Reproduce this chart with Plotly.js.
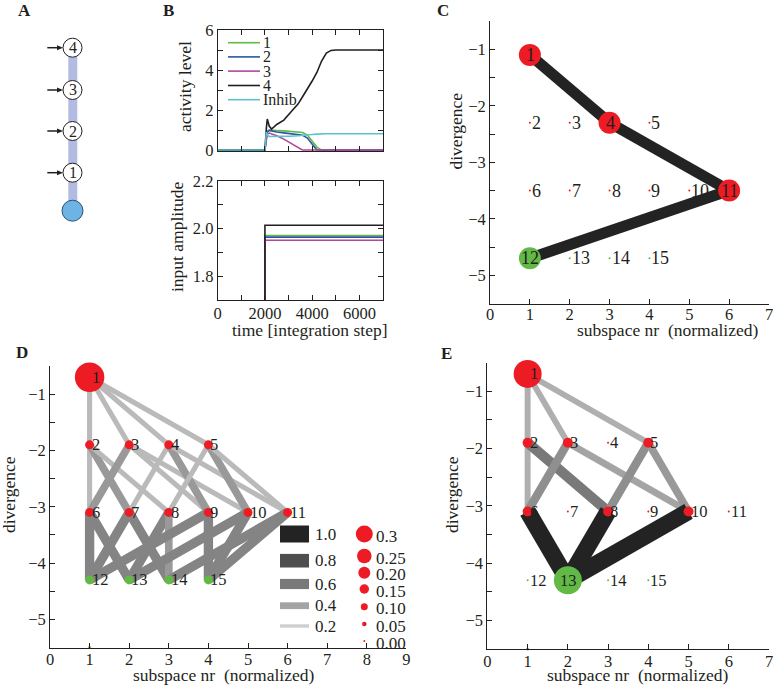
<!DOCTYPE html>
<html><head><meta charset="utf-8">
<script src="https://cdn.plot.ly/plotly-3.0.1.min.js"></script>
<style>html,body{margin:0;padding:0;background:#fff}#chart{width:774px;height:686px}</style>
</head><body><div id="chart"></div>
<script>
// ---------------- Panel B data ----------------
const seriesNames = ['1', '2', '3', '4', 'Inhib'];
const timeSteps = [0, 2000, 2060, 2100, 2180, 2280, 2500, 2800, 3100, 3400, 3600, 3800, 4000, 4200, 4400, 4600, 4800, 5000, 7000];
const activity1 = [0, 0, 0.70, 0.95, 1.00, 1.00, 0.98, 0.96, 0.94, 0.92, 0.88, 0.75, 0.45, 0.15, 0, 0, 0, 0, 0];
const activity2 = [0, 0, 0.60, 0.90, 0.98, 0.95, 0.90, 0.86, 0.82, 0.78, 0.74, 0.60, 0.30, 0, 0, 0, 0, 0, 0];
const activity3 = [0, 0, 0.50, 0.80, 0.85, 0.82, 0.72, 0.55, 0.35, 0.12, 0, 0, 0, 0, 0, 0, 0, 0, 0];
const activity4 = [0, 0, 1.10, 1.55, 1.20, 1.05, 1.28, 1.50, 1.90, 2.30, 2.68, 3.05, 3.45, 3.88, 4.45, 4.85, 4.98, 5.00, 5.00];
const activityInhib = [0, 0, 0.90, 0.75, 0.68, 0.68, 0.70, 0.70, 0.70, 0.72, 0.73, 0.75, 0.78, 0.80, 0.82, 0.82, 0.82, 0.82, 0.82];
const inputTimes = [0, 2000, 2000, 7000];
const input1 = [0, 0, 1.971, 1.971];
const input2 = [0, 0, 1.964, 1.964];
const input3 = [0, 0, 1.951, 1.951];
const input4 = [0, 0, 2.014, 2.014];

// ---------------- Network data (panels C, D, E) ----------------
const nodeLabels = ['1','2','3','4','5','6','7','8','9','10','11','12','13','14','15'];
const nodeSubspace = [1, 1, 2, 3, 4, 1, 2, 3, 4, 5, 6, 1, 2, 3, 4];
const nodeIsOutput = [0,0,0,0,0,0,0,0,0,0,0,1,1,1,1];
const divergenceC = [-1.1, -2.3, -2.3, -2.3, -2.3, -3.5, -3.5, -3.5, -3.5, -3.5, -3.5, -4.7, -4.7, -4.7, -4.7];
const divergenceDE = [-0.7, -1.9, -1.9, -1.9, -1.9, -3.1, -3.1, -3.1, -3.1, -3.1, -3.1, -4.3, -4.3, -4.3, -4.3];
const emptyNodeSubspace = [1];
const emptyNodeDivergence = [-5.5];

const nodeWeightC = [0.40, 0, 0, 0.40, 0, 0, 0, 0, 0, 0, 0.40, 0.40, 0, 0, 0];
const nodeWeightD = [0.55, 0.14, 0.14, 0.14, 0.14, 0.14, 0.14, 0.14, 0.14, 0.14, 0.14, 0.14, 0.14, 0.14, 0.14];
const nodeWeightE = [0.52, 0.16, 0.16, 0, 0.16, 0.16, 0, 0.16, 0, 0.16, 0, 0, 0.52, 0, 0];

const edgeFromC = [1, 4, 11];
const edgeToC   = [4, 11, 12];
const edgeWC    = [1, 1, 1];

const edgeFromD = [1, 1, 1, 1, 2, 2, 2, 3, 3, 3, 4, 4, 4, 5, 5, 5, 6, 6, 7, 7, 8, 8, 9, 9, 10, 10, 11, 11];
const edgeToD   = [2, 3, 4, 5, 6, 7, 8, 6, 9, 10, 7, 9, 11, 8, 10, 11, 12, 13, 12, 14, 13, 14, 12, 15, 13, 15, 14, 15];
const edgeWD    = [0.30, 0.30, 0.30, 0.30, 0.30, 0.45, 0.30, 0.45, 0.30, 0.30, 0.30, 0.45, 0.30, 0.30, 0.45, 0.30,
                   0.55, 0.55, 0.55, 0.55, 0.55, 0.45, 0.55, 0.55, 0.55, 0.55, 0.55, 0.55];

const edgeFromE = [1, 1, 1, 2, 2, 3, 3, 5, 5, 6, 8, 10];
const edgeToE   = [2, 3, 5, 6, 8, 6, 10, 8, 10, 13, 13, 13];
const edgeWE    = [0.35, 0.35, 0.35, 0.35, 0.60, 0.50, 0.40, 0.50, 0.45, 1.0, 1.0, 1.0];

const edgeLegendValues = [1.0, 0.8, 0.6, 0.4, 0.2];
const nodeLegendValues = [0.3, 0.25, 0.20, 0.15, 0.10, 0.05, 0.00];
const nodeLegendLabels = ['0.3', '0.25', '0.20', '0.15', '0.10', '0.05', '0.00'];

// ---------------- helpers / style ----------------
const W = 774, H = 686;
const fx = p => p / W, fy = p => 1 - p / H;
const FONT = '"Liberation Serif", "Times New Roman", serif';
const ink = '#231f20';
const RED = '#ed1c24', GREEN = '#62b946';
const seriesColors = ['#62b946', '#2b56a5', '#b4469a', '#231f20', '#5cc3cf'];
const gray = w => { const g = Math.round(250 - 215 * w); return `rgb(${g},${g},${g})`; };
const nodeDiam = v => 2 + 50 * v;
const F = s => ({family: FONT, size: s, color: ink});

const traces = [], shapes = [], annotations = [];

// ---------------- Panel B traces ----------------
[activity1, activity2, activity3, activity4, activityInhib].forEach((s, i) => traces.push({
  x: timeSteps, y: s, type: 'scatter', mode: 'lines', name: seriesNames[i],
  line: {color: seriesColors[i], width: 1.6}, xaxis: 'x', yaxis: 'y', hoverinfo: 'skip'
}));
[input1, input2, input3, input4].forEach((s, i) => traces.push({
  x: inputTimes, y: s, type: 'scatter', mode: 'lines', name: seriesNames[i],
  line: {color: seriesColors[i], width: 1.6}, xaxis: 'x2', yaxis: 'y2', hoverinfo: 'skip'
}));
// manual legend for B
const legRows = [42.7, 56.9, 71.1, 85.5, 99.7];
seriesNames.forEach((n, i) => {
  shapes.push({type: 'line', xref: 'paper', yref: 'paper', x0: fx(228), x1: fx(260), y0: fy(legRows[i]), y1: fy(legRows[i]),
    line: {color: seriesColors[i], width: 1.6}});
  annotations.push({xref: 'paper', yref: 'paper', x: fx(261.5), y: fy(legRows[i]), xanchor: 'left', yanchor: 'middle',
    text: n, showarrow: false, borderpad: 0, font: F(16)});
});

// ---------------- network drawing ----------------
function drawNetwork(ax, ay, nodeY, weights, eFrom, eTo, eW, widthScale, centered, withEmpty, labelSize) {
  eFrom.forEach((f, k) => {
    const t = eTo[k];
    traces.push({x: [nodeSubspace[f - 1], nodeSubspace[t - 1]], y: [nodeY[f - 1], nodeY[t - 1]],
      type: 'scatter', mode: 'lines', line: {color: gray(eW[k]), width: widthScale * eW[k]},
      xaxis: ax, yaxis: ay, hoverinfo: 'skip'});
  });
  if (withEmpty) traces.push({x: emptyNodeSubspace, y: emptyNodeDivergence, type: 'scatter', mode: 'markers',
    marker: {size: nodeDiam(0) + 1, color: GREEN, opacity: 1}, cliponaxis: false, xaxis: ax, yaxis: ay, hoverinfo: 'skip'});
  traces.push({x: nodeSubspace, y: nodeY, type: 'scatter', mode: 'markers',
    marker: {size: weights.map(nodeDiam), color: nodeIsOutput.map(o => o ? GREEN : RED), opacity: 1, line: {width: 0}},
    cliponaxis: false, xaxis: ax, yaxis: ay, hoverinfo: 'skip'});
  nodeLabels.forEach((lab, i) => {
    const c = centered.includes(i + 1);
    annotations.push({xref: ax, yref: ay, x: nodeSubspace[i], y: nodeY[i], text: lab, showarrow: false,
      xanchor: c ? 'center' : 'left', yanchor: 'middle', xshift: c ? 0.5 : 0, yshift: 0,
      font: F(labelSize)});
  });
}
drawNetwork('x3', 'y3', divergenceC, nodeWeightC, edgeFromC, edgeToC, edgeWC, 11, [1, 4, 11, 12], false, 18);
drawNetwork('x4', 'y4', divergenceDE, nodeWeightD, edgeFromD, edgeToD, edgeWD, 17, [], true, 16.5);
drawNetwork('x5', 'y5', divergenceDE, nodeWeightE, edgeFromE, edgeToE, edgeWE, 17, [13], true, 16.5);

// ---------------- D legends ----------------
const edgeLegY = [534, 560.7, 584, 605.7, 626];
edgeLegendValues.forEach((v, i) => {
  shapes.push({type: 'line', xref: 'paper', yref: 'paper', x0: fx(280), x1: fx(309), y0: fy(edgeLegY[i]), y1: fy(edgeLegY[i]),
    line: {color: gray(v), width: 17 * v}});
  annotations.push({xref: 'paper', yref: 'paper', x: fx(313), y: fy(edgeLegY[i]), xanchor: 'left', yanchor: 'middle',
    text: v.toFixed(1), showarrow: false, font: F(17)});
});
const nodeLegY = [534, 556, 572.7, 589, 606.7, 624, 641];
nodeLegendValues.forEach((v, i) => {
  const r = nodeDiam(v) / 2, cx = 364.3, cy = nodeLegY[i];
  shapes.push({type: 'circle', xref: 'paper', yref: 'paper', x0: fx(cx - r), x1: fx(cx + r), y0: fy(cy + r), y1: fy(cy - r),
    fillcolor: RED, line: {width: 0}});
  annotations.push({xref: 'paper', yref: 'paper', x: fx(375), y: fy(cy + 2), xanchor: 'left', yanchor: 'middle',
    text: nodeLegendLabels[i], showarrow: false, borderpad: 0, font: F(17)});
});

// ---------------- Panel A schematic ----------------
const aNodesY = [172.7, 131, 90, 47.7];
const aCx = 72.5;
shapes.push({type: 'rect', xref: 'paper', yref: 'paper', x0: fx(68.3), x1: fx(77.3), y0: fy(210), y1: fy(47.7),
  fillcolor: '#b4bbe2', line: {width: 0}, layer: 'below'});
aNodesY.forEach((cy, i) => {
  shapes.push({type: 'circle', xref: 'paper', yref: 'paper', x0: fx(aCx - 9.5), x1: fx(aCx + 9.5), y0: fy(cy + 9.5), y1: fy(cy - 9.5),
    fillcolor: 'white', line: {color: ink, width: 1}});
  annotations.push({xref: 'paper', yref: 'paper', x: fx(aCx), y: fy(cy), text: String(i + 1), showarrow: false,
    xanchor: 'center', yanchor: 'middle', font: F(16)});
  shapes.push({type: 'line', xref: 'paper', yref: 'paper', x0: fx(47.3), x1: fx(59), y0: fy(cy), y1: fy(cy), line: {color: ink, width: 1.5}});
  shapes.push({type: 'path', xref: 'paper', yref: 'paper',
    path: `M ${fx(57)} ${fy(cy - 2.5)} L ${fx(63)} ${fy(cy)} L ${fx(57)} ${fy(cy + 2.5)} Z`, fillcolor: ink, line: {width: 0}});
});
shapes.push({type: 'circle', xref: 'paper', yref: 'paper', x0: fx(aCx - 10.5), x1: fx(aCx + 10.5), y0: fy(210.7 + 10.5), y1: fy(210.7 - 10.5),
  fillcolor: '#6db3e3', line: {color: '#2e4f73', width: 1}});

// ---------------- Titles / labels ----------------
const T = (x, y, text, opts = {}) => annotations.push(Object.assign({xref: 'paper', yref: 'paper', x: fx(x), y: fy(y), text,
  showarrow: false, xanchor: 'center', yanchor: 'middle', font: F(17.5)}, opts));
T(24, 11, '<b>A</b>', {font: F(17)});
T(168, 10, '<b>B</b>', {font: F(17)});
T(443, 10, '<b>C</b>', {font: F(17)});
T(22, 352, '<b>D</b>', {font: F(17)});
T(446, 353, '<b>E</b>', {font: F(17)});
T(185, 87, 'activity level', {textangle: -90});
T(177, 237, 'input amplitude', {textangle: -90});
T(310, 330, 'time [integration step]');
T(455, 131.5, 'divergence', {textangle: -90});
T(667, 330, 'subspace nr\u00a0 (normalized)');
T(9, 495, 'divergence', {textangle: -90});
T(223, 686, 'subspace nr\u00a0 (normalized)', {yanchor: 'bottom', borderpad: 0});
T(452, 495, 'divergence', {textangle: -90});
T(637, 686, 'subspace nr\u00a0 (normalized)', {yanchor: 'bottom', borderpad: 0});

// ---------------- Layout ----------------
const axBase = {showline: true, linecolor: ink, linewidth: 1, ticks: 'inside', ticklen: 5, tickcolor: ink, tickwidth: 1,
  showgrid: false, zeroline: false, fixedrange: true, tickfont: F(16.5)};
const minorT = d => ({dtick: d, ticks: 'inside', ticklen: 5, tickcolor: ink, tickwidth: 1, showgrid: false});
const layout = {
  width: W, height: H, margin: {l: 0, r: 0, t: 0, b: 0}, paper_bgcolor: 'white', plot_bgcolor: 'rgba(0,0,0,0)',
  showlegend: false, shapes, annotations, font: F(16),
  xaxis: Object.assign({}, axBase, {domain: [fx(217.7), fx(383)], range: [0, 7000], anchor: 'y', mirror: 'ticks',
    showticklabels: false, tick0: 0, dtick: 2000, minor: minorT(1000)}),
  yaxis: Object.assign({}, axBase, {domain: [fy(150.7), fy(30)], range: [-0.03, 6], anchor: 'x', mirror: 'ticks',
    tick0: 0, dtick: 2, minor: minorT(1), layer: 'below traces'}),
  xaxis2: Object.assign({}, axBase, {domain: [fx(217.7), fx(383)], range: [0, 7000], anchor: 'y2', mirror: 'ticks',
    tick0: 0, dtick: 2000, minor: minorT(1000), ticklabelstandoff: -2}),
  yaxis2: Object.assign({}, axBase, {domain: [fy(300), fy(181)], range: [1.7, 2.2], anchor: 'x2', mirror: 'ticks',
    tick0: 1.8, dtick: 0.2, tickformat: '.1f', minor: minorT(0.1)}),
  xaxis3: Object.assign({}, axBase, {domain: [fx(490), fx(769)], range: [0, 7], anchor: 'y3', dtick: 1, tick0: 0, ticklabelstandoff: -4}),
  yaxis3: Object.assign({}, axBase, {domain: [fy(303.5), fy(21)], range: [-5.5, -0.5], anchor: 'x3', dtick: 1, tick0: 0, minor: minorT(0.5)}),
  xaxis4: Object.assign({}, axBase, {domain: [fx(50), fx(406.4)], range: [0, 9], anchor: 'y4', dtick: 1, tick0: 0, ticklabelstandoff: -3}),
  yaxis4: Object.assign({}, axBase, {domain: [fy(647.5), fy(366)], range: [-5.5, -0.5], anchor: 'x4', dtick: 1, tick0: 0, minor: minorT(0.5)}),
  xaxis5: Object.assign({}, axBase, {domain: [fx(487.4), fx(769)], range: [0, 7], anchor: 'y5', dtick: 1, tick0: 0, ticklabelstandoff: -3}),
  yaxis5: Object.assign({}, axBase, {domain: [fy(649), fy(362.5)], range: [-5.5, -0.5], anchor: 'x5', dtick: 1, tick0: 0, minor: minorT(0.5)})
};
Plotly.newPlot('chart', traces, layout, {staticPlot: true, displayModeBar: false});
</script></body></html>
